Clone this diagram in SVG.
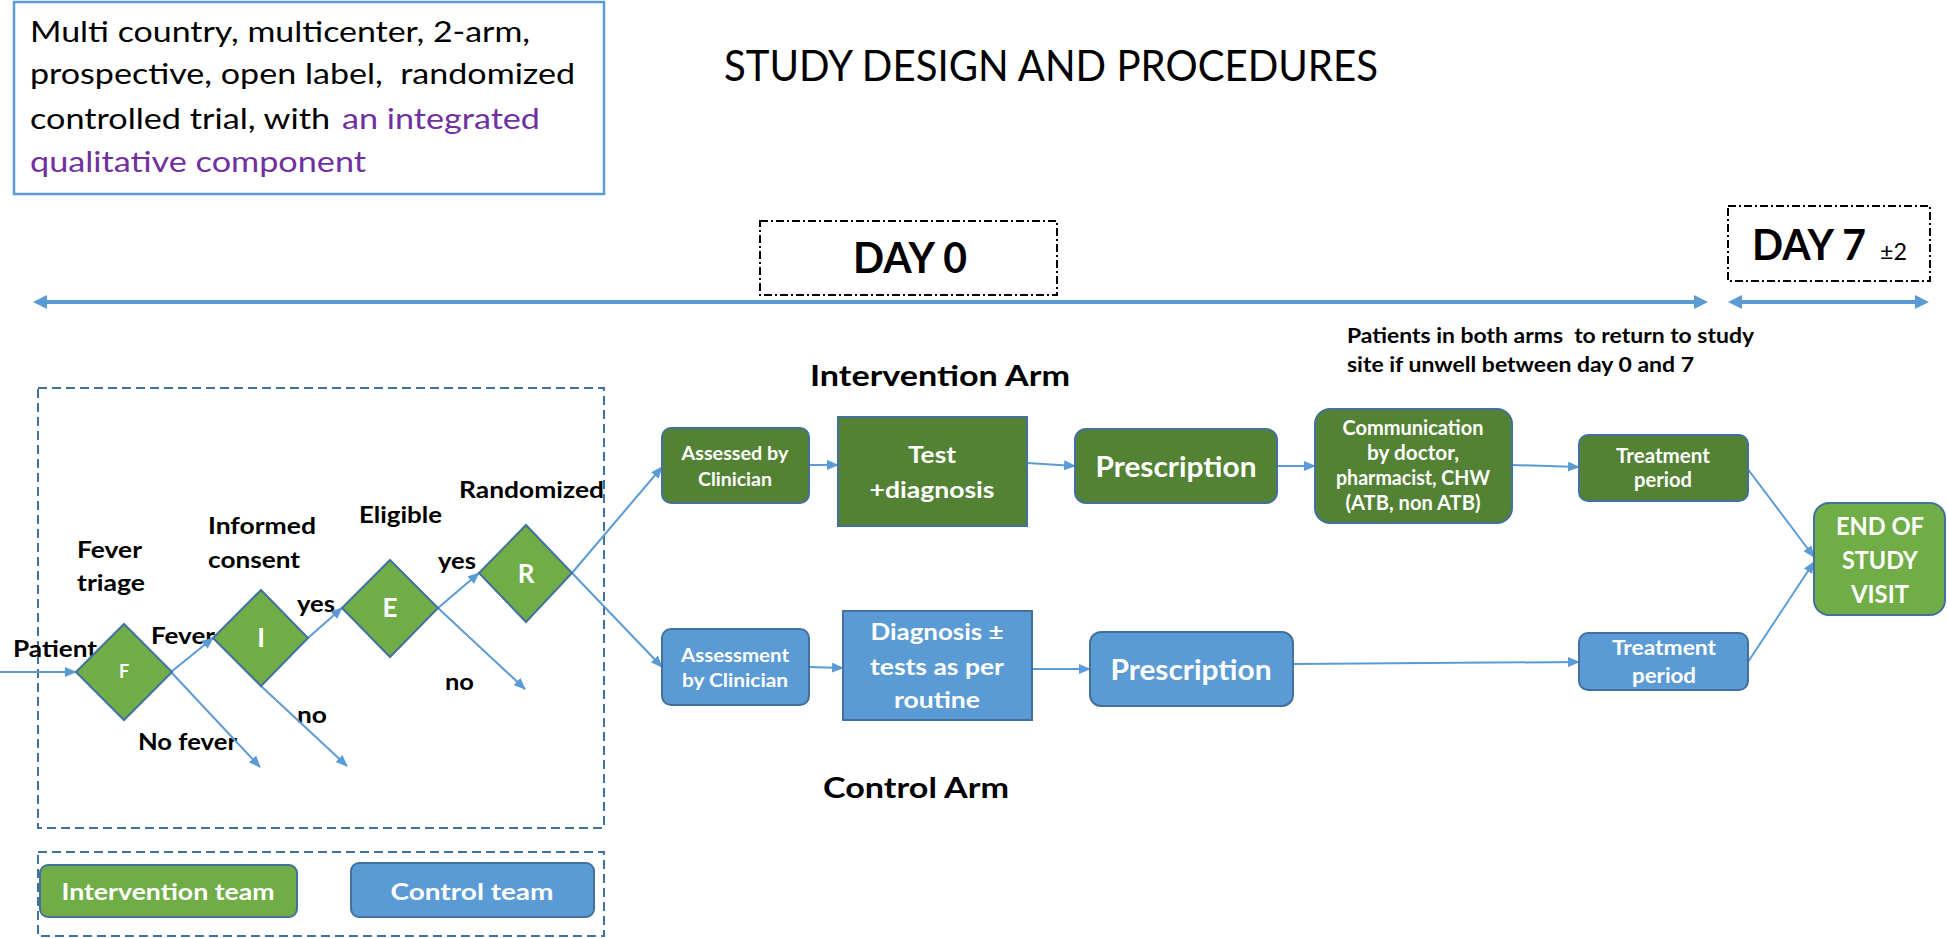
<svg xmlns="http://www.w3.org/2000/svg" width="1947" height="938" viewBox="0 0 1947 938">
<defs>
<style>
text { font-family: Lato, "Liberation Sans", Arial, sans-serif; }
.b { font-weight: bold; fill: #000; }
.w { font-weight: bold; fill: #fff; text-anchor: middle; }
.dg { fill: #548235; stroke: #41719C; stroke-width: 2; }
.lg { fill: #70AD47; stroke: #41719C; stroke-width: 2; }
.bl { fill: #5B9BD5; stroke: #41719C; stroke-width: 2; }
.cn { stroke: #5B9BD5; stroke-width: 2; fill: none; marker-end: url(#ah); }
.tl { stroke: #5B9BD5; stroke-width: 4; fill: none; marker-start: url(#th); marker-end: url(#th); }
.dash { fill: none; stroke: #41719C; stroke-width: 2; stroke-dasharray: 9 5; }
.dd { fill: none; stroke: #000; stroke-width: 2; stroke-dasharray: 8 3 2 3; }
</style>
<marker id="ah" viewBox="0 0 12 10" refX="11" refY="5" markerWidth="12" markerHeight="10" markerUnits="userSpaceOnUse" orient="auto">
<path d="M0,0 L12,5 L0,10 z" fill="#5B9BD5"/>
</marker>
<marker id="th" viewBox="0 0 14 14" refX="10" refY="7" markerWidth="14" markerHeight="14" markerUnits="userSpaceOnUse" orient="auto-start-reverse">
<path d="M0,0 L14,7 L0,14 z" fill="#5B9BD5"/>
</marker>
</defs>
<rect width="1947" height="938" fill="#fff"/>

<g id="info-box">
<rect x="14" y="2" width="590" height="192" fill="#fff" stroke="#5B9BD5" stroke-width="2.5"/>
<text x="30" y="42" font-size="28" textLength="500" lengthAdjust="spacingAndGlyphs">Multi country, multicenter, 2-arm,</text>
<text x="30" y="84" font-size="28" textLength="545" lengthAdjust="spacingAndGlyphs" style="white-space:pre">prospective, open label,  randomized</text>
<text x="30" y="129" font-size="28" textLength="300" lengthAdjust="spacingAndGlyphs">controlled trial, with</text>
<text x="342" y="129" font-size="28" fill="#7030A0" textLength="198" lengthAdjust="spacingAndGlyphs">an integrated</text>
<text x="30" y="172" font-size="28" fill="#7030A0" textLength="336" lengthAdjust="spacingAndGlyphs">qualitative component</text>
</g>

<g id="title">
<text x="724" y="81" font-size="42" textLength="654" lengthAdjust="spacingAndGlyphs">STUDY DESIGN AND PROCEDURES</text>
</g>

<g id="day0">
<rect x="760" y="221" width="297" height="74" class="dd"/>
<text x="853" y="273" font-size="42" class="b" textLength="114" lengthAdjust="spacingAndGlyphs">DAY 0</text>
</g>

<g id="day7">
<rect x="1728" y="206" width="202" height="75" class="dd"/>
<text x="1752" y="260" font-size="42" class="b" textLength="114" lengthAdjust="spacingAndGlyphs">DAY 7</text>
<text x="1880" y="260" font-size="24" textLength="27" lengthAdjust="spacingAndGlyphs">±2</text>
</g>

<g id="note">
<text x="1347" y="343" font-size="21" class="b" textLength="407" lengthAdjust="spacingAndGlyphs" style="white-space:pre">Patients in both arms  to return to study</text>
<text x="1347" y="372" font-size="21" class="b" textLength="347" lengthAdjust="spacingAndGlyphs">site if unwell between day 0 and 7</text>
</g>

<g id="arm-labels">
<text x="810" y="386" font-size="28" class="b" textLength="260" lengthAdjust="spacingAndGlyphs">Intervention Arm</text>
<text x="823" y="798" font-size="28" class="b" textLength="186" lengthAdjust="spacingAndGlyphs">Control Arm</text>
</g>

<g id="screening-box">
<rect x="38" y="388" width="566" height="440" class="dash"/>
</g>

<g id="flow-labels" font-size="22">
<text x="13" y="657" class="b" textLength="84" lengthAdjust="spacingAndGlyphs">Patient</text>
<text x="77" y="558" class="b" textLength="65" lengthAdjust="spacingAndGlyphs">Fever</text>
<text x="77" y="591" class="b" textLength="68" lengthAdjust="spacingAndGlyphs">triage</text>
<text x="151" y="644" class="b" textLength="64" lengthAdjust="spacingAndGlyphs">Fever</text>
<text x="138" y="750" class="b" textLength="99" lengthAdjust="spacingAndGlyphs">No fever</text>
<text x="208" y="534" class="b" textLength="108" lengthAdjust="spacingAndGlyphs">Informed</text>
<text x="208" y="568" class="b" textLength="92" lengthAdjust="spacingAndGlyphs">consent</text>
<text x="297" y="612" class="b" textLength="38" lengthAdjust="spacingAndGlyphs">yes</text>
<text x="297" y="723" class="b" textLength="30" lengthAdjust="spacingAndGlyphs">no</text>
<text x="359" y="523" class="b" textLength="83" lengthAdjust="spacingAndGlyphs">Eligible</text>
<text x="438" y="569" class="b" textLength="38" lengthAdjust="spacingAndGlyphs">yes</text>
<text x="445" y="690" class="b" textLength="29" lengthAdjust="spacingAndGlyphs">no</text>
<text x="459" y="498" class="b" textLength="145" lengthAdjust="spacingAndGlyphs">Randomized</text>
</g>

<g id="connectors">
<path class="tl" d="M37,302 L1704,302"/>
<path class="tl" d="M1732,302 L1925,302"/>
<path class="cn" d="M0,672 L76,672"/>
<path class="cn" d="M171,672 L213,638"/>
<path class="cn" d="M171,672 L260,767"/>
<path class="cn" d="M308,638 L342,608"/>
<path class="cn" d="M261,686 L347,766"/>
<path class="cn" d="M438,608 L479,573"/>
<path class="cn" d="M438,608 L525,689"/>
<path class="cn" d="M572,573 L662,467"/>
<path class="cn" d="M572,573 L662,667"/>
<path class="cn" d="M809,465 L838,465"/>
<path class="cn" d="M1027,463 L1075,466"/>
<path class="cn" d="M1277,466 L1315,466"/>
<path class="cn" d="M1512,465 L1579,467"/>
<path class="cn" d="M1747,468 L1814,557"/>
<path class="cn" d="M809,667 L843,668"/>
<path class="cn" d="M1032,669 L1090,669"/>
<path class="cn" d="M1293,664 L1579,662"/>
<path class="cn" d="M1748,662 L1814,562"/>
</g>

<g id="node-F">
<polygon points="124,624 172,672 124,720 76,672" class="lg"/>
<text x="124" y="678" font-size="18" class="w">F</text>
</g>
<g id="node-I">
<polygon points="261,590 308,638 261,686 213,638" class="lg"/>
<text x="261" y="647" font-size="26" class="w">I</text>
</g>
<g id="node-E">
<polygon points="390,560 438,608 390,657 342,608" class="lg"/>
<text x="390" y="617" font-size="26" class="w">E</text>
</g>
<g id="node-R">
<polygon points="526,525 572,573 526,622 479,573" class="lg"/>
<text x="526" y="583" font-size="26" class="w">R</text>
</g>

<g id="assessed-clinician">
<rect x="662" y="428" width="147" height="75" rx="9" class="dg"/>
<text x="735" y="460" font-size="18" class="w" textLength="107" lengthAdjust="spacingAndGlyphs">Assessed by</text>
<text x="735" y="486" font-size="18" class="w" textLength="74" lengthAdjust="spacingAndGlyphs">Clinician</text>
</g>
<g id="test-diagnosis">
<rect x="838" y="417" width="189" height="109" class="dg"/>
<text x="932" y="463" font-size="23" class="w" textLength="48" lengthAdjust="spacingAndGlyphs">Test</text>
<text x="932" y="498" font-size="23" class="w" textLength="125" lengthAdjust="spacingAndGlyphs">+diagnosis</text>
</g>
<g id="prescription-int">
<rect x="1075" y="429" width="202" height="74" rx="11" class="dg"/>
<text x="1176" y="477" font-size="28" class="w" textLength="161" lengthAdjust="spacingAndGlyphs">Prescription</text>
</g>
<g id="communication">
<rect x="1315" y="409" width="197" height="114" rx="15" class="dg"/>
<text x="1413" y="435" font-size="20" class="w" textLength="141" lengthAdjust="spacingAndGlyphs">Communication</text>
<text x="1413" y="460" font-size="20" class="w" textLength="92" lengthAdjust="spacingAndGlyphs">by doctor,</text>
<text x="1413" y="485" font-size="20" class="w" textLength="154" lengthAdjust="spacingAndGlyphs">pharmacist, CHW</text>
<text x="1413" y="510" font-size="20" class="w" textLength="135" lengthAdjust="spacingAndGlyphs">(ATB, non ATB)</text>
</g>
<g id="treatment-int">
<rect x="1579" y="435" width="169" height="66" rx="9" class="dg"/>
<text x="1663" y="463" font-size="20" class="w" textLength="94" lengthAdjust="spacingAndGlyphs">Treatment</text>
<text x="1663" y="487" font-size="20" class="w" textLength="58" lengthAdjust="spacingAndGlyphs">period</text>
</g>
<g id="end-visit">
<rect x="1814" y="503" width="131" height="112" rx="15" class="lg"/>
<text x="1880" y="535" font-size="25" class="w" textLength="88" lengthAdjust="spacingAndGlyphs">END OF</text>
<text x="1880" y="569" font-size="25" class="w" textLength="76" lengthAdjust="spacingAndGlyphs">STUDY</text>
<text x="1880" y="603" font-size="25" class="w" textLength="58" lengthAdjust="spacingAndGlyphs">VISIT</text>
</g>

<g id="assessment-clinician">
<rect x="662" y="629" width="147" height="76" rx="9" class="bl"/>
<text x="735" y="662" font-size="18" class="w" textLength="108" lengthAdjust="spacingAndGlyphs">Assessment</text>
<text x="735" y="687" font-size="18" class="w" textLength="106" lengthAdjust="spacingAndGlyphs">by Clinician</text>
</g>
<g id="diagnosis-routine">
<rect x="843" y="611" width="189" height="109" class="bl"/>
<text x="937" y="640" font-size="23" class="w" textLength="133" lengthAdjust="spacingAndGlyphs">Diagnosis ±</text>
<text x="937" y="675" font-size="23" class="w" textLength="134" lengthAdjust="spacingAndGlyphs">tests as per</text>
<text x="937" y="708" font-size="23" class="w" textLength="86" lengthAdjust="spacingAndGlyphs">routine</text>
</g>
<g id="prescription-ctl">
<rect x="1090" y="632" width="203" height="74" rx="11" class="bl"/>
<text x="1191" y="680" font-size="28" class="w" textLength="161" lengthAdjust="spacingAndGlyphs">Prescription</text>
</g>
<g id="treatment-ctl">
<rect x="1579" y="633" width="169" height="57" rx="9" class="bl"/>
<text x="1664" y="655" font-size="21" class="w" textLength="104" lengthAdjust="spacingAndGlyphs">Treatment</text>
<text x="1664" y="683" font-size="21" class="w" textLength="64" lengthAdjust="spacingAndGlyphs">period</text>
</g>

<g id="legend">
<rect x="38" y="852" width="566" height="84" class="dash"/>
<rect x="40" y="865" width="257" height="52" rx="8" class="lg"/>
<text x="168" y="900" font-size="23" class="w" textLength="213" lengthAdjust="spacingAndGlyphs">Intervention team</text>
<rect x="351" y="863" width="243" height="54" rx="8" class="bl"/>
<text x="472" y="900" font-size="23" class="w" textLength="163" lengthAdjust="spacingAndGlyphs">Control team</text>
</g>
</svg>
